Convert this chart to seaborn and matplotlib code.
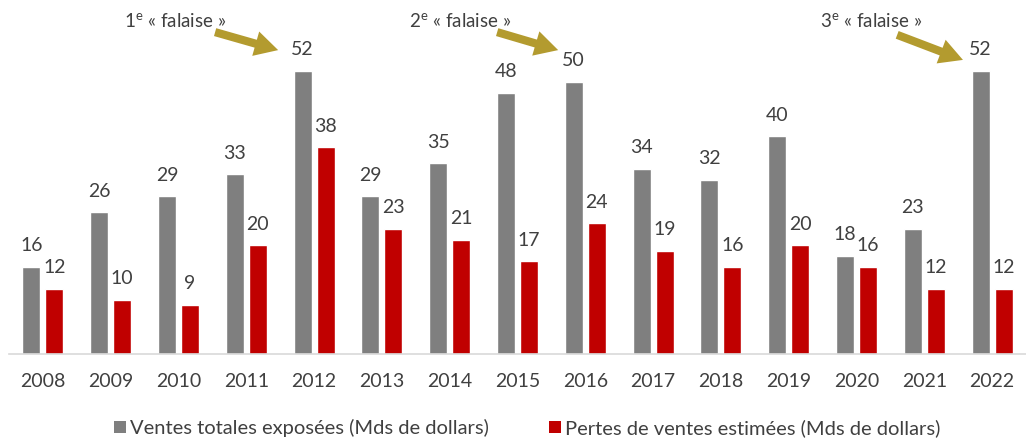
import matplotlib
matplotlib.use("Agg")
import matplotlib.pyplot as plt
import seaborn as sns
import pandas as pd
from matplotlib.patches import Patch

years = ["2008", "2009", "2010", "2011", "2012", "2013", "2014", "2015",
         "2016", "2017", "2018", "2019", "2020", "2021", "2022"]
ventes = [16, 26, 29, 33, 52, 29, 35, 48, 50, 34, 32, 40, 18, 23, 52]
pertes = [12, 10, 9, 20, 38, 23, 21, 17, 24, 19, 16, 20, 16, 12, 12]
series = ["Ventes totales exposées (Mds de dollars)",
          "Pertes de ventes estimées (Mds de dollars)"]
falaises = ["1", "2", "3"]

sns.set_theme(style="white")
plt.rcParams["font.family"] = ["Lato", "DejaVu Sans"]
plt.rcParams["mathtext.fontset"] = "custom"
plt.rcParams["mathtext.rm"] = "Lato"

df = pd.DataFrame({
    "year": years * 2,
    "value": ventes + pertes,
    "serie": [series[0]] * len(years) + [series[1]] * len(years),
})

fig = plt.figure(figsize=(10.26, 4.38), dpi=100)
ax = fig.add_axes([9 / 1026, 84 / 438, 1017 / 1026, 354 / 438])
palette = {series[0]: "#7f7f7f", series[1]: "#c00000"}
sns.barplot(data=df, x="year", y="value", hue="serie", palette=palette,
            width=0.68, gap=0.22, ax=ax, legend=False, saturation=1)

txt = "#404040"
for cont in ax.containers:
    ax.bar_label(cont, padding=9, fontsize=14, color=txt)

ax.set_xlim(-0.5, 14.5)
ax.set_ylim(0, 65)
ax.set_xlabel("")
ax.set_ylabel("")
ax.set_yticks([])
for s in ["top", "left", "right"]:
    ax.spines[s].set_visible(False)
ax.spines["bottom"].set_color("#d9d9d9")
ax.spines["bottom"].set_linewidth(1.2)
ax.tick_params(axis="x", length=0, pad=14, labelsize=14, labelcolor=txt)

# annotations
gold = "#b39b2f"
text_pos = [(1.95, 61.0), (6.15, 61.0), (12.21, 61.0)]
arrows = [((2.54, 59.1), (3.47, 55.8)),
          ((6.70, 59.1), (7.60, 55.8)),
          ((12.60, 58.6), (13.57, 54.0))]
for lab, (tx, ty), (st, en) in zip(falaises, text_pos, arrows):
    ax.text(tx, ty, lab + r"$^{\mathrm{e}}$" + " « falaise »", ha="center",
            va="center", fontsize=13.5, color=txt)
    ax.annotate("", xy=en, xytext=st,
                arrowprops=dict(arrowstyle="simple,head_width=1.3,head_length=1.2,tail_width=0.42",
                                mutation_scale=14, color=gold, lw=0,
                                shrinkA=0, shrinkB=0))

handles = [Patch(facecolor=palette[s], edgecolor="none") for s in series]
fig.legend(handles, series, loc="center", bbox_to_anchor=(527 / 1026, 1 - 428 / 438),
           ncol=2, frameon=False, fontsize=14.5, handlelength=0.6, handleheight=0.6,
           handletextpad=0.2, columnspacing=3.0, labelcolor=txt)

fig.savefig("out.png", dpi=100)
